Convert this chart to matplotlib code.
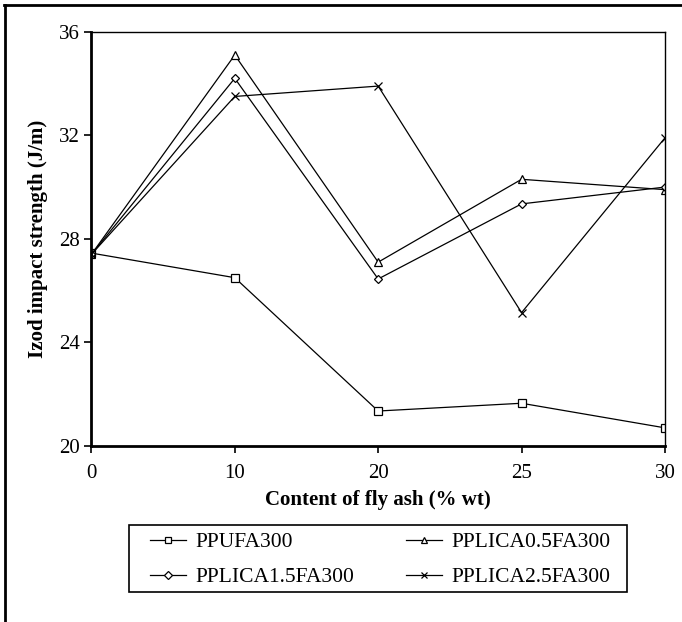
import matplotlib
matplotlib.use("Agg")
import matplotlib.pyplot as plt
from matplotlib.lines import Line2D
from matplotlib.patches import Rectangle

plt.rcParams['font.family'] = ['Liberation Serif', 'DejaVu Serif']

fly_ash = ['0', '10', '20', '25', '30']
ppufa300 = [27.45, 26.5, 21.35, 21.65, 20.7]
pplica05 = [27.4, 35.1, 27.1, 30.3, 29.9]
pplica15 = [27.4, 34.2, 26.45, 29.35, 30.0]
pplica25 = [27.4, 33.5, 33.9, 25.15, 31.9]

series = [
    ('PPUFA300', ppufa300, 's'),
    ('PPLICA0.5FA300', pplica05, '^'),
    ('PPLICA1.5FA300', pplica15, 'D'),
    ('PPLICA2.5FA300', pplica25, 'x'),
]

fig = plt.figure(figsize=(6.82, 6.22), dpi=100)
ax = fig.add_axes([0.134, 0.283, 0.841, 0.666])

x = range(len(fly_ash))
handles = []
for name, vals, mk in series:
    ms = 4.5 if mk == 'D' else 6
    h, = ax.plot(x, vals, color='black', lw=0.9, marker=mk, ms=ms,
                 mfc='white', mec='black', mew=0.9, label=name)
    handles.append(h)

ax.set_xlim(0, len(fly_ash) - 1)
ax.set_ylim(20, 36)
ax.set_xticks(list(x))
ax.set_xticklabels(fly_ash)
ax.set_yticks([20, 24, 28, 32, 36])
ax.tick_params(direction='out', length=5, width=1.2, labelsize=15)
ax.tick_params(axis='x', pad=8)

for side in ['left', 'bottom']:
    ax.spines[side].set_linewidth(2)
for side in ['top', 'right']:
    ax.spines[side].set_linewidth(1)

ax.set_xlabel('Content of fly ash (% wt)', fontsize=15, fontweight='bold', labelpad=5)
ax.set_ylabel('Izod impact strength (J/m)', fontsize=15, fontweight='bold', labelpad=8)

# legend entries (left column then right column), box drawn separately
order = [handles[0], handles[2], handles[1], handles[3]]
fig.legend(order, [h.get_label() for h in order], ncol=2,
           loc='upper left', bbox_to_anchor=(150 / 682, 1 - 532 / 622),
           fontsize=15.5, frameon=False, handlelength=1.65, handletextpad=0.45,
           columnspacing=2.42, labelspacing=0.7, borderpad=0,
           borderaxespad=0, markerscale=0.8)
fig.add_artist(Rectangle((129 / 682, 1 - 592 / 622), 498 / 682, 67 / 622,
                         transform=fig.transFigure, fill=False,
                         edgecolor='black', lw=1.2))

# frame lines along the top and left edges
fig.add_artist(Line2D([4 / 682, 1], [1 - 5 / 622, 1 - 5 / 622],
                      transform=fig.transFigure, color='black', lw=2))
fig.add_artist(Line2D([4.7 / 682, 4.7 / 682], [0, 1 - 5 / 622],
                      transform=fig.transFigure, color='black', lw=2))

fig.savefig('out.png', dpi=100)
